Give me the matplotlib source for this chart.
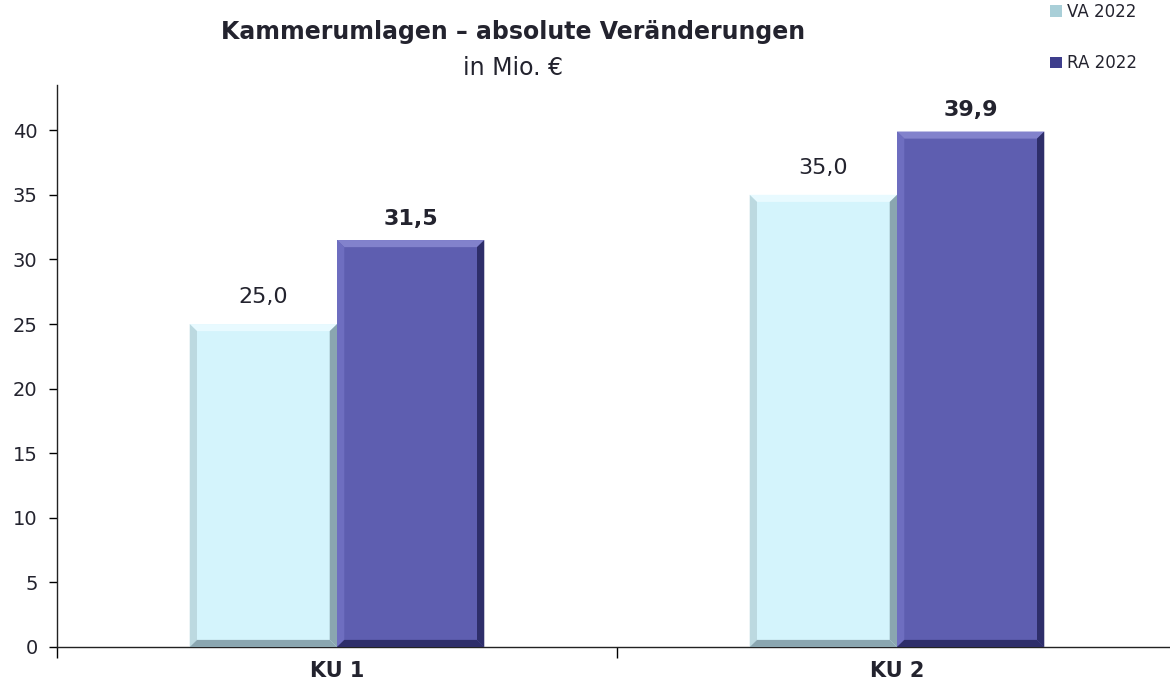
import matplotlib
matplotlib.use("Agg")
import matplotlib.pyplot as plt
from matplotlib.patches import Polygon
import numpy as np

categories = ["KU 1", "KU 2"]
series_names = ["VA 2022", "RA 2022"]
va_values = [25.0, 35.0]
ra_values = [31.5, 39.9]
yticks = [0, 5, 10, 15, 20, 25, 30, 35, 40]

face_colors = ["#D4F4FC", "#5E5EB0"]
top_edge = ["#E8FAFF", "#8282CC"]
left_edge = ["#BCD9E0", "#6E6EC0"]
dark_edge = ["#8AA6B0", "#2E2E6A"]
legend_colors = ["#A9CFD8", "#3E3E8C"]
text_color = "#23232E"

fig = plt.figure(figsize=(11.7, 6.9), dpi=100)
ax = fig.add_axes([57/1170, 1 - 647/690, (1177 - 57)/1170, (647 - 85)/690])

x = np.arange(len(categories))
width = 0.263
series = [va_values, ra_values]
offsets = [-width/2, width/2]

bars_all = []
for i, vals in enumerate(series):
    bars = ax.bar(x + offsets[i], vals, width, color=face_colors[i],
                  edgecolor="none", zorder=2, label=series_names[i])
    bars_all.append(bars)

ax.set_xlim(-0.5, 1.5)
ax.set_ylim(0, 43.5)

# bevel effect
bx = 0.013
by = 0.55
for i, bars in enumerate(bars_all):
    for b in bars:
        x0, y0 = b.get_x(), b.get_y()
        w, h = b.get_width(), b.get_height()
        x1, y1 = x0 + w, y0 + h
        top = Polygon([(x0, y1), (x1, y1), (x1 - bx, y1 - by), (x0 + bx, y1 - by)],
                      closed=True, color=top_edge[i], zorder=3, lw=0)
        left = Polygon([(x0, y0), (x0, y1), (x0 + bx, y1 - by), (x0 + bx, y0 + by)],
                       closed=True, color=left_edge[i], zorder=3, lw=0)
        right = Polygon([(x1, y0), (x1, y1), (x1 - bx, y1 - by), (x1 - bx, y0 + by)],
                        closed=True, color=dark_edge[i], zorder=3, lw=0)
        bottom = Polygon([(x0, y0), (x1, y0), (x1 - bx, y0 + by), (x0 + bx, y0 + by)],
                         closed=True, color=dark_edge[i], zorder=3, lw=0)
        for p in (top, left, right, bottom):
            ax.add_patch(p)

# value labels
label_offsets = [12, 8]
for i, bars in enumerate(bars_all):
    for b in bars:
        v = b.get_height()
        ax.annotate(f"{v:.1f}".replace(".", ","),
                    (b.get_x() + b.get_width()/2, v),
                    xytext=(0, label_offsets[i]), textcoords="offset points",
                    ha="center", va="bottom", fontsize=16,
                    fontweight="bold" if i == 1 else "normal",
                    color=text_color, zorder=5)

# axes styling
for s in ["top", "right"]:
    ax.spines[s].set_visible(False)
ax.spines["left"].set_color("#222222")
ax.spines["bottom"].set_color("#222222")
ax.spines["left"].set_linewidth(1.0)
ax.spines["bottom"].set_linewidth(1.0)

ax.set_yticks(yticks)
ax.set_yticklabels([str(t) for t in yticks], fontsize=14, color=text_color)
ax.tick_params(axis="y", direction="out", length=6, width=1, pad=8)

ax.set_xticks(x)
ax.set_xticklabels(categories, fontsize=15, fontweight="bold", color=text_color)
ax.tick_params(axis="x", length=0, pad=10)
ax.set_xticks([-0.5, 0.5, 1.5], minor=True)
ax.tick_params(axis="x", which="minor", direction="out", length=8, width=1)

# title
fig.text(513/1170, 1 - 32/690, "Kammerumlagen – absolute Veränderungen",
         ha="center", va="center", fontsize=17, fontweight="bold", color=text_color)
fig.text(513/1170, 1 - 68/690, "in Mio. €",
         ha="center", va="center", fontsize=17, color=text_color)

# legend
leg = ax.legend(loc="upper left", bbox_to_anchor=(1035/1170, 1 + 12/690),
                bbox_transform=fig.transFigure, frameon=False, fontsize=12,
                handlelength=0.7, handleheight=0.7, handletextpad=0.3,
                labelspacing=2.0, labelcolor=text_color)
for h, c in zip(leg.legend_handles, legend_colors):
    h.set_facecolor(c)

fig.savefig("out.png", dpi=100)
